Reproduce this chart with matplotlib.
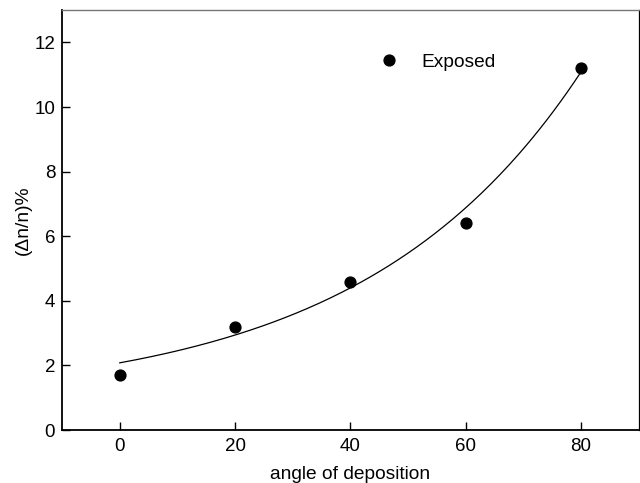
import numpy as np
import matplotlib.pyplot as plt

plt.rcParams['font.family'] = ['Liberation Sans', 'DejaVu Sans']

# measured points
angle = [0, 20, 40, 60, 80]
dn_n = [1.70, 3.18, 4.58, 6.40, 11.22]

# exponential growth fit y = y0 + A*exp(x/t), parameters
fit_y0 = 0.846
fit_A = 1.234
fit_t = 37.8
fit_range = (0, 80)

xf = np.linspace(fit_range[0], fit_range[1], 200)
yf = fit_y0 + fit_A * np.exp(xf / fit_t)

fig = plt.figure(figsize=(6.4, 4.83), dpi=100)
ax = fig.add_axes([0.097, 0.1097, 0.901, 0.8693])

ax.plot(xf, yf, color="black", lw=0.9)
ax.plot(angle, dn_n, "o", color="black", ms=7.8, ls="none", label="Exposed")

ax.set_xlim(-10, 90)
ax.set_ylim(0, 13)
ax.set_xticks([0, 20, 40, 60, 80])
ax.set_yticks([0, 2, 4, 6, 8, 10, 12])
ax.tick_params(direction="in", length=6, width=1, labelsize=13.5, colors="black")
ax.tick_params(axis="x", pad=6)
ax.tick_params(axis="y", pad=5)

for side in ["left", "bottom"]:
    ax.spines[side].set_linewidth(1.3)
ax.spines["right"].set_linewidth(0.9)
ax.spines["top"].set_linewidth(1.0)
ax.spines["top"].set_color("#777777")

ax.set_xlabel("angle of deposition", fontsize=13.8, labelpad=8)
ax.set_ylabel("(Δn/n)%", fontsize=13.8, labelpad=2)

ax.legend(loc="center left", bbox_to_anchor=(0.52, 0.876), frameon=False,
          fontsize=13.8, handlelength=1.0, handletextpad=1.2, markerscale=1.0)

fig.savefig("out.png", dpi=100)
